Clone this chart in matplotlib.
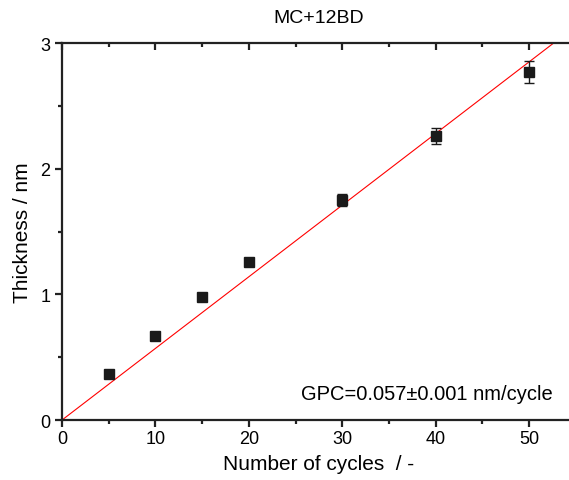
import matplotlib.pyplot as plt
from matplotlib.ticker import MultipleLocator

plt.rcParams['font.family'] = ['Liberation Sans', 'DejaVu Sans']

# Data
cycles = [5, 10, 15, 20, 30, 40, 50]
thickness = [0.366, 0.668, 0.975, 1.257, 1.75, 2.26, 2.77]
errors = [0.015, 0.02, 0.02, 0.035, 0.045, 0.06, 0.085]
gpc = 0.057
fit_x = [0, 55]
fit_y = [gpc * x for x in fit_x]

fig = plt.figure(figsize=(5.69, 4.81), dpi=100)
ax = fig.add_axes([0.109, 0.1247, 0.903, 0.7838])

ax.plot(fit_x, fit_y, color='red', linewidth=0.8, zorder=2)
ax.errorbar(cycles, thickness, yerr=errors, fmt='s', color='#1a1a1a',
            markersize=7.5, capsize=3.5, elinewidth=1, capthick=1, zorder=3)

ax.set_xlim(0, 55)
ax.set_ylim(0, 3)
ax.xaxis.set_major_locator(MultipleLocator(10))
ax.xaxis.set_minor_locator(MultipleLocator(5))
ax.yaxis.set_major_locator(MultipleLocator(1))
ax.yaxis.set_minor_locator(MultipleLocator(0.5))

for s in ax.spines.values():
    s.set_linewidth(1.6)
    s.set_color('#222222')

ax.tick_params(axis='both', which='both', direction='out', labelsize=13,
               color='#222222')
ax.tick_params(which='major', length=5, width=1.6)
ax.tick_params(which='minor', length=3, width=1.6)
ax.tick_params(axis='x', top=True, which='both')
ax.tick_params(axis='x', which='major', pad=2)

# top ticks point inward
for t in ax.xaxis.get_major_ticks() + ax.xaxis.get_minor_ticks():
    t.tick2line.set_marker(3)

ax.set_title('MC+12BD', fontsize=14, pad=15)
ax.set_xlabel('Number of cycles  / -', fontsize=15, labelpad=5)
ax.set_ylabel('Thickness / nm', fontsize=15, labelpad=6)

ax.text(0.955, 0.045, 'GPC=0.057\u00b10.001 nm/cycle', transform=ax.transAxes,
        ha='right', va='bottom', fontsize=14.5)

fig.savefig('out.png', dpi=100)
